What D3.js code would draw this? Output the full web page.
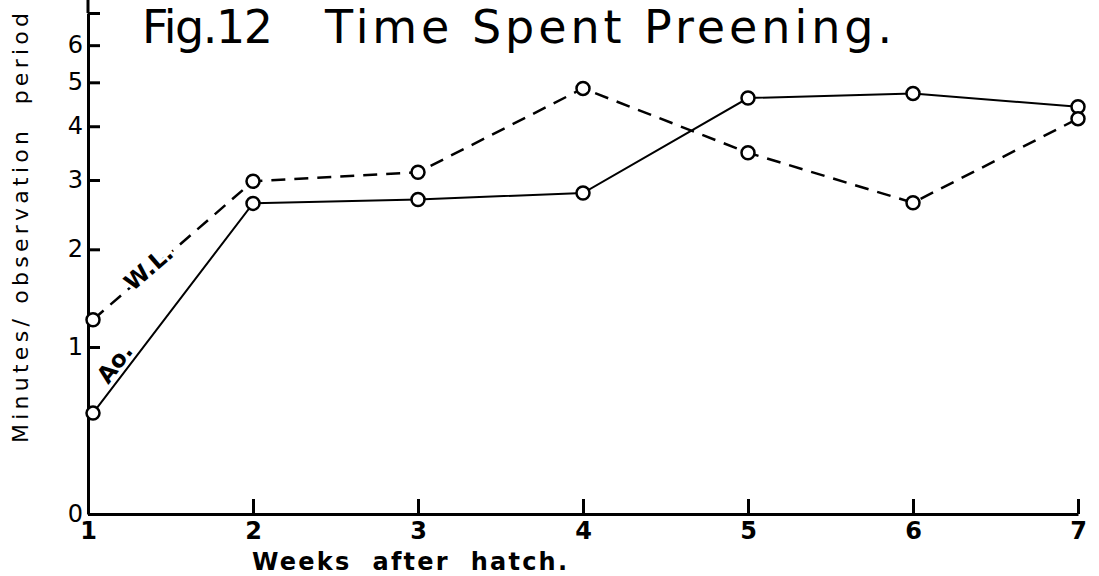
<!DOCTYPE html>
<html>
<head>
<meta charset="utf-8">
<script src="https://cdn.jsdelivr.net/npm/d3@7"></script>
<style>
  body { margin: 0; background: #fff; }
  svg { display: block; font-family: "DejaVu Sans", sans-serif; }
</style>
</head>
<body>
<main></main>
<script>
// values (minutes per observation period)
const weeks = [1, 2, 3, 4, 5, 6, 7];
const aoMinutes = [0.52, 2.63, 2.69, 2.79, 4.62, 4.73, 4.42];
const wlMinutes = [1.24, 2.98, 3.13, 4.85, 3.48, 2.64, 4.16];
const yTickValues = [0, 1, 2, 3, 4, 5, 6, 7];
const yTickLabels = ["0", "1", "2", "3", "4", "5", "6", ""];
const xTickLabels = ["1", "2", "3", "4", "5", "6", "7"];
const seriesNames = ["Ao.", "W.L."];

const w = 1099;
const h = 576;

const svg = d3.select("main")
  .append("svg")
  .attr("width", w)
  .attr("height", h);

const x = d3.scaleLinear()
  .domain([1, 7])
  .range([88, 1078]);

// the vertical axis is spaced like log(minutes + 1)
const y = d3.scaleSymlog()
  .constant(1)
  .domain([0, 7])
  .range([514, 13]);

const xAxis = d3.axisBottom(x)
  .tickValues(weeks)
  .tickFormat((d, i) => xTickLabels[i])
  .tickSize(-15)
  .tickSizeOuter(0)
  .tickPadding(8);

const yAxis = d3.axisLeft(y)
  .tickValues(yTickValues)
  .tickFormat((d, i) => yTickLabels[i])
  .tickSize(-12)
  .tickSizeOuter(0)
  .tickPadding(5);

const gx = svg.append("g")
  .attr("transform", "translate(0," + y(0) + ")")
  .call(xAxis);

const gy = svg.append("g")
  .attr("transform", "translate(" + x(1) + ",0)")
  .call(yAxis);

[gx, gy].forEach(g => {
  g.select(".domain").attr("stroke", "#000").attr("stroke-width", 3);
  g.selectAll(".tick line").attr("stroke", "#000").attr("stroke-width", 3);
  g.selectAll(".tick text")
    .attr("fill", "#000")
    .attr("font-family", "DejaVu Sans, sans-serif")
    .attr("font-size", 24);
});
gx.selectAll(".tick text").attr("font-weight", "bold");

// y axis runs on to the top edge
svg.append("line")
  .attr("x1", x(1)).attr("x2", x(1))
  .attr("y1", y(7)).attr("y2", 0)
  .attr("stroke", "#000")
  .attr("stroke-width", 3);

const xPos = (d, i) => x(weeks[i]) + (i === 0 ? 5 : 0);

const line = d3.line()
  .x(xPos)
  .y(d => y(d));

svg.append("path")
  .datum(aoMinutes)
  .attr("d", line)
  .attr("fill", "none")
  .attr("stroke", "#000")
  .attr("stroke-width", 2);

svg.append("path")
  .datum(wlMinutes)
  .attr("d", line)
  .attr("fill", "none")
  .attr("stroke", "#000")
  .attr("stroke-width", 2.5)
  .attr("stroke-dasharray", "14,9");

[aoMinutes, wlMinutes].forEach(series => {
  svg.append("g")
    .selectAll("circle")
    .data(series)
    .enter()
    .append("circle")
    .attr("cx", xPos)
    .attr("cy", d => y(d))
    .attr("r", 6.5)
    .attr("fill", "#fff")
    .attr("stroke", "#000")
    .attr("stroke-width", 2.5);
});

// series labels written along the first segment of each line
function lineLabel(series, name, t, offset) {
  const x0 = xPos(series[0], 0), y0 = y(series[0]);
  const x1 = xPos(series[1], 1), y1 = y(series[1]);
  const px = x0 + (x1 - x0) * t;
  const py = y0 + (y1 - y0) * t;
  const angle = Math.atan2(y1 - y0, x1 - x0) * 180 / Math.PI;
  svg.append("text")
    .attr("transform", "translate(" + px + "," + py + ") rotate(" + angle + ")")
    .attr("text-anchor", "middle")
    .attr("dy", offset)
    .attr("stroke", "#fff")
    .attr("stroke-width", 6)
    .attr("paint-order", "stroke")
    .attr("font-size", 23)
    .attr("font-weight", "bold")
    .text(name);
}
lineLabel(wlMinutes, seriesNames[1], 0.36, 5);
lineLabel(aoMinutes, seriesNames[0], 0.2, -5);

svg.append("text")
  .attr("x", 142)
  .attr("y", 43)
  .attr("textLength", 131)
  .attr("font-size", 46)
  .text("Fig.12");

svg.append("text")
  .attr("x", 325)
  .attr("y", 43)
  .attr("textLength", 567)
  .attr("font-size", 46)
  .text("Time Spent Preening.");

svg.append("text")
  .attr("transform", "translate(28,228) rotate(-90)")
  .attr("text-anchor", "middle")
  .attr("textLength", 430)
  .attr("font-size", 22)
  .style("white-space", "pre")
  .text("Minutes/ observation  period");

svg.append("text")
  .attr("x", 252)
  .attr("y", 570)
  .attr("textLength", 315)
  .attr("font-size", 24)
  .attr("font-weight", "bold")
  .style("white-space", "pre")
  .text("Weeks  after  hatch.");
</script>
</body>
</html>
